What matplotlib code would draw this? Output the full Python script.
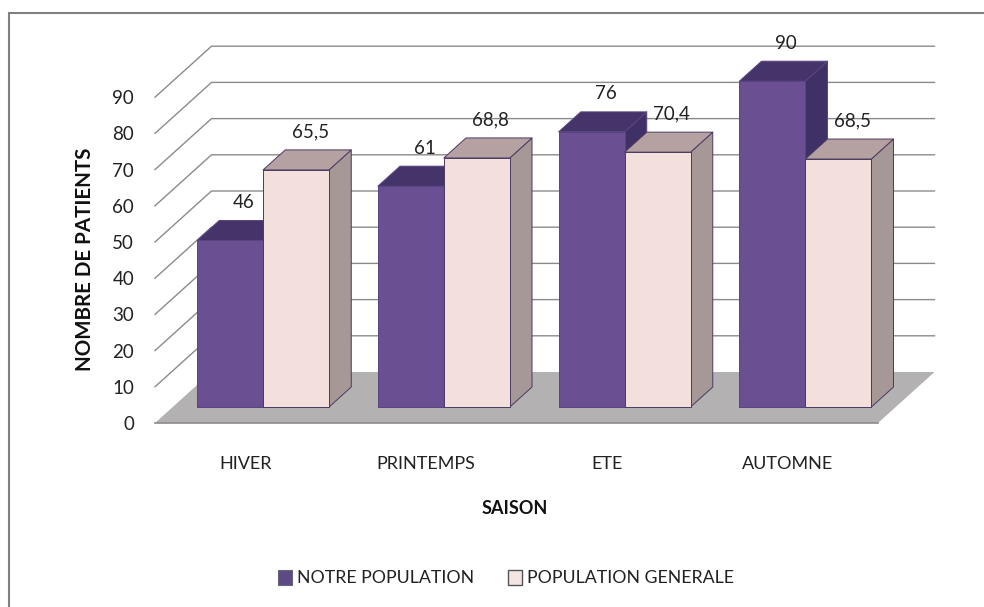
import matplotlib
matplotlib.use("Agg")
import matplotlib.pyplot as plt
from matplotlib.patches import Polygon, Patch, Rectangle

categories = ["HIVER", "PRINTEMPS", "ETE", "AUTOMNE"]
notre_population = [46, 61, 76, 90]
population_generale = [65.5, 68.8, 70.4, 68.5]
value_ticks = [0, 10, 20, 30, 40, 50, 60, 70, 80, 90]
series_names = ["NOTRE POPULATION", "POPULATION GENERALE"]

W, H = 984, 607
plt.rcParams['font.family'] = ['Lato', 'DejaVu Sans']
fig = plt.figure(figsize=(W / 100, H / 100), dpi=100, facecolor='white')

# front plane of the 3D box, in pixels
L, R, B = 155, 878, 423
PX_PER_UNIT = 3.62
top = 90
ax = fig.add_axes([L / W, (H - B) / H, (R - L) / W, top * PX_PER_UNIT / H])
ax.set_xlim(0, len(categories))
ax.set_ylim(0, top)
ax.patch.set_visible(False)
for s in ax.spines.values():
    s.set_visible(False)

DX = 56.5 / ((R - L) / len(categories))
DY = 51 / PX_PER_UNIT
D0, D1 = 16 / 51, 36 / 51
BAR_W = 66 / ((R - L) / len(categories))


def proj(x, y, d):
    return (x + DX * d, y + DY * d)


def poly(pts, fc, ec='none', lw=0.0, z=2):
    ax.add_patch(Polygon(pts, closed=True, facecolor=fc, edgecolor=ec,
                         linewidth=lw, zorder=z, clip_on=False, joinstyle='round'))


n = len(categories)
# floor
poly([proj(0, 0, 0), proj(n, 0, 0), proj(n, 0, 1), proj(0, 0, 1)], '#b3b1b1', z=1)
ax.plot([0, n], [0, 0], color='#8c8a8a', lw=1.2, zorder=1.2, clip_on=False)
# walls' gridlines
for v in value_ticks[1:]:
    ax.plot(*zip(proj(0, v, 0), proj(0, v, 1), proj(n, v, 1)),
            color='#8b8b8b', lw=1.0, zorder=1.5, clip_on=False)


def bar3d(x0, v, front, topc, side, edge, z):
    x1 = x0 + BAR_W
    poly([proj(x1, 0, D0), proj(x1, 0, D1), proj(x1, v, D1), proj(x1, v, D0)], side, edge, 0.7, z)
    poly([proj(x0, v, D0), proj(x1, v, D0), proj(x1, v, D1), proj(x0, v, D1)], topc, edge, 0.7, z)
    poly([proj(x0, 0, D0), proj(x1, 0, D0), proj(x1, v, D0), proj(x0, v, D0)], front, edge, 0.7, z)


z = 3
for i in range(n):
    cx = i + 0.5
    bar3d(cx - BAR_W, notre_population[i], '#6a4f93', '#45346a', '#3f3066', '#5a4480', z)
    z += 1
    bar3d(cx, population_generale[i], '#f3dfdc', '#b5a1a1', '#a59896', '#4b3a60', z)
    z += 1
    for xc, v in ((cx - BAR_W / 2, notre_population[i]), (cx + BAR_W / 2, population_generale[i])):
        ax.annotate(str(v).replace('.', ','), xy=proj(xc, v, D0), xytext=(14 * 0.72, 38 * 0.72),
                    textcoords='offset points', ha='center', va='center',
                    fontsize=13.5, color='#222222', zorder=50, annotation_clip=False)

ax.set_xticks([i + 0.5 for i in range(n)], categories)
ax.set_yticks(value_ticks, [str(v) for v in value_ticks])
ax.tick_params(axis='x', length=0, pad=24, labelsize=13, labelcolor='#222222')
ax.tick_params(axis='y', length=0, pad=15, labelsize=13.5, labelcolor='#222222')

fig.text(85 / W, 1 - 259 / H, "NOMBRE DE PATIENTS", rotation=90, ha='center', va='center',
         fontsize=14.8, fontweight='bold', color='#111111')
fig.text(515 / W, 1 - 508 / H, "SAISON", ha='center', va='center',
         fontsize=13, fontweight='bold', color='#111111')

handles = [Patch(facecolor='#5d4a85', edgecolor='#666677', linewidth=0.8, label=series_names[0]),
           Patch(facecolor='#f3e6e2', edgecolor='#555555', linewidth=1.0, label=series_names[1])]
fig.legend(handles=handles, ncols=2, frameon=False, loc='center', bbox_to_anchor=(506 / W, 1 - 578 / H),
           fontsize=12.8, handlelength=0.78, handleheight=0.9, handletextpad=0.28, columnspacing=1.9,
           labelcolor='#222222')

# chart frame (runs off the right and bottom edges)
fig.add_artist(Rectangle((9 / W, -0.1), 1.1, 1 - 13 / H + 0.1, transform=fig.transFigure,
                         facecolor='none', edgecolor='#808080', linewidth=1.5))

fig.savefig('out.png', dpi=100)
